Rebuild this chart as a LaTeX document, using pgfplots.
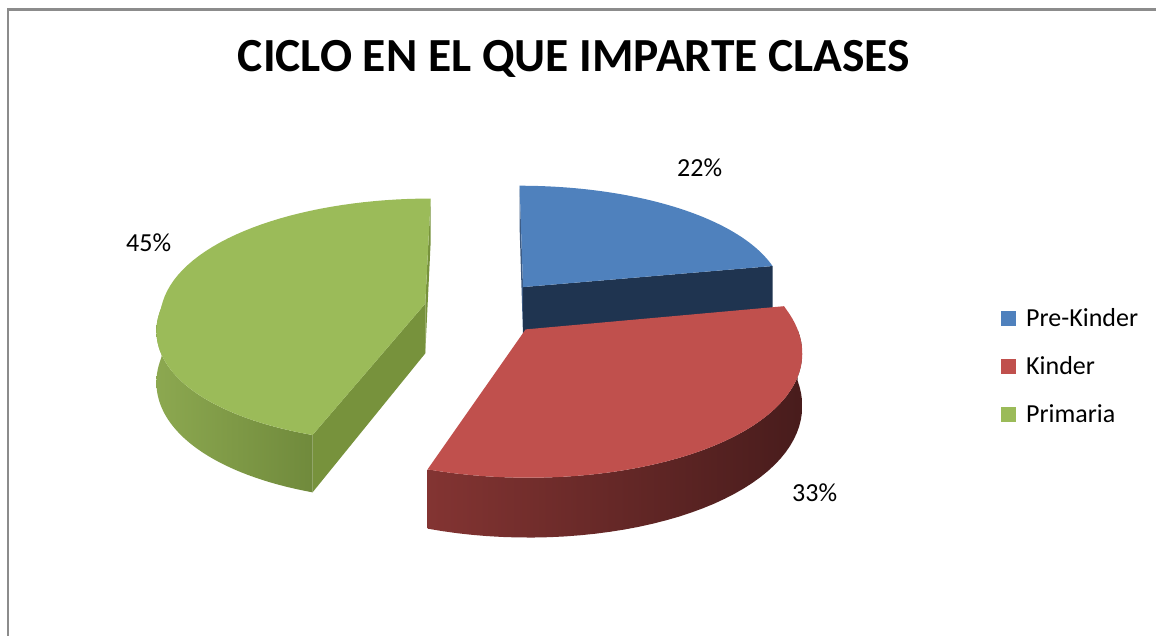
\documentclass[border=0pt]{standalone}
\usepackage{pgfplots}
\usepackage{pgfplotstable}
\pgfplotsset{compat=1.18}
\usepackage{fontspec}
\setmainfont{Carlito}

\pgfplotstableread{
label value
Pre-Kinder 22
Kinder 33
Primaria 45
}\piedata

\definecolor{cblue}{RGB}{79,129,189}
\definecolor{cred}{RGB}{192,80,77}
\definecolor{cgreen}{RGB}{155,187,89}
\definecolor{cbluedark}{RGB}{31,52,80}
\definecolor{cblueedge}{RGB}{60,90,130}
\definecolor{cgreendark}{RGB}{119,146,60}
\definecolor{credsideL}{RGB}{131,52,50}
\definecolor{credsideR}{RGB}{72,28,28}
\definecolor{cgreensideL}{RGB}{140,168,80}
\definecolor{cgreensideR}{RGB}{112,138,60}
\definecolor{cframe}{RGB}{140,140,140}

\newcommand\ex{0.23}
\newcommand\thk{50}
\newcommand\setslice[2]{%
  \pgfmathsetmacro\ta{#1}\pgfmathsetmacro\tb{#2}%
  \pgfmathsetmacro\tm{(\ta+\tb)/2}%
  \pgfmathsetmacro\ou{\ex*sin(\tm)}%
  \pgfmathsetmacro\ov{\ex*cos(\tm)}%
  \pgfmathsetmacro\sa{max(\ta,90)}%
  \pgfmathsetmacro\sb{min(\tb,270)}}
\newcommand\Pt[3]{(axis cs:{PX(\ou+(#2)*sin(#1),\ov+(#2)*cos(#1))},{PY(\ov+(#2)*cos(#1),#3)})}
\newcommand\radial[2]{\fill[#1] \Pt{#2}{0}{0} -- \Pt{#2}{1}{0} -- \Pt{#2}{1}{\thk} -- \Pt{#2}{0}{\thk} -- cycle;}
\newcommand\topface[1]{\fill[#1] \Pt{\ta}{0}{0} \foreach \i in {0,...,60}{ -- \Pt{\ta+(\tb-\ta)*\i/60}{1}{0}} -- cycle;}
\newcommand\side[2]{\shade[left color=#1, right color=#2] \Pt{\sa}{1}{0} \foreach \i in {1,...,40}{ -- \Pt{\sa+(\sb-\sa)*\i/40}{1}{0}} \foreach \i in {0,...,40}{ -- \Pt{\sb-(\sb-\sa)*\i/40}{1}{\thk}} -- cycle;}

\begin{document}%
\begin{tikzpicture}[declare function={kk(\v)=1/(1+0.14*\v); kx(\v)=1/(1+ifthenelse(\v>0,0.1,0.17)*\v); PX(\u,\v)=485+264*(\u*kx(\v)-0.1*max(kx(\v)-1,0)); PY(\v,\h)=308+(\h-121*\v)*kk(\v);}]
\pgfplotstablegetelem{0}{value}\of\piedata \let\va\pgfplotsretval
\pgfplotstablegetelem{1}{value}\of\piedata \let\vb\pgfplotsretval
\pgfplotstablegetelem{2}{value}\of\piedata \let\vc\pgfplotsretval
\pgfmathsetmacro\tot{\va+\vb+\vc}
\pgfmathsetmacro\aA{0}
\pgfmathsetmacro\aB{360*(\va/\tot)}
\pgfmathsetmacro\aC{360*((\va+\vb)/\tot)}
\pgfmathsetmacro\aD{360}
\begin{axis}[width=1156pt, height=635pt, scale only axis,
  xmin=0, xmax=1156, ymin=0, ymax=635, y dir=reverse,
  hide axis, clip=false]
% frame
\draw[cframe, line width=2.6pt, line join=miter] (axis cs:8,640) -- (axis cs:8,9.6) -- (axis cs:1160,9.6);
% Pre-Kinder slice
\pgfplotsextra{%
  \setslice{\aA}{\aB}%
  \radial{cblueedge}{\ta}%
  \radial{cbluedark}{\tb}%
  \topface{cblue}%
}
% Primaria slice
\pgfplotsextra{%
  \setslice{\aC}{\aD}%
  \radial{cgreendark}{\tb}%
  \radial{cgreendark}{\ta}%
  \side{cgreensideL}{cgreensideR}%
  \topface{cgreen}%
}
% Kinder slice
\pgfplotsextra{%
  \setslice{\aB}{\aC}%
  \side{credsideL}{credsideR}%
  \topface{cred}%
}
% title
\node[anchor=base, inner sep=0pt, font=\fontsize{47.5}{52}\selectfont\bfseries] at (axis cs:574,71.7) {CICLO EN EL QUE IMPARTE CLASES};
% percentage labels
\node[anchor=base west, inner sep=0pt, font=\fontsize{26}{30}\selectfont] at (axis cs:677,176.7) {\va\%};
\node[anchor=base west, inner sep=0pt, font=\fontsize{26}{30}\selectfont] at (axis cs:792,501) {\vb\%};
\node[anchor=base west, inner sep=0pt, font=\fontsize{26}{30}\selectfont] at (axis cs:126,251.7) {\vc\%};
% legend
\fill[cblue] (axis cs:1001,310.7) rectangle (axis cs:1016,325.7);
\fill[cred] (axis cs:1001,358.7) rectangle (axis cs:1016,373.7);
\fill[cgreen] (axis cs:1001,406.7) rectangle (axis cs:1016,421.7);
\node[anchor=base west, inner sep=0pt, font=\fontsize{26}{30}\selectfont] at (axis cs:1026,326) {Pre-Kinder};
\node[anchor=base west, inner sep=0pt, font=\fontsize{26}{30}\selectfont] at (axis cs:1026,374) {Kinder};
\node[anchor=base west, inner sep=0pt, font=\fontsize{26}{30}\selectfont] at (axis cs:1026,422) {Primaria};
\end{axis}
\pgfresetboundingbox
\path[use as bounding box] (current axis.south west) rectangle (current axis.north east);
\end{tikzpicture}%
\end{document}
